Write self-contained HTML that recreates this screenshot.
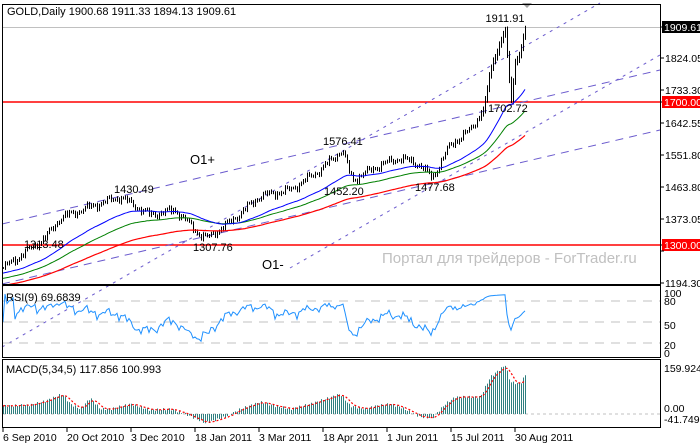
<!DOCTYPE html>
<html><head><meta charset="utf-8">
<style>
body{margin:0;background:#fff;}
svg{display:block;font-family:"Liberation Sans",sans-serif;}
</style></head><body>
<svg id="c" width="700" height="446" xmlns="http://www.w3.org/2000/svg">
<rect width="700" height="446" fill="#fff"/>
<g id="g"></g>
<rect x="2.5" y="4.5" width="658" height="280" fill="none" stroke="#000"/>
<rect x="2.5" y="285.5" width="658" height="72" fill="none" stroke="#000"/>
<rect x="2.5" y="359.5" width="658" height="68" fill="none" stroke="#000"/>
<text x="7" y="15" font-size="11">GOLD,Daily  1900.68 1911.33 1894.13 1909.61</text>
<text x="6" y="301" font-size="11">RSI(9) 69.6839</text>
<text x="6" y="373" font-size="11">MACD(5,34,5) 117.856 100.993</text>
<text x="190" y="164" font-size="13">O1+</text>
<text x="262" y="269" font-size="13">O1-</text>
<text x="382" y="263" font-size="15" fill="#c0c0c0">Портал для трейдеров - ForTrader.ru</text>
</svg>
<script>
const g=document.getElementById('g');
let s='';
const Y=p=>27+(1909.61-p)*0.3578, P=y=>1909.61-(y-27)/0.3578;
s+='<line x1="3" y1="27.5" x2="660" y2="27.5" stroke="#c0c0c0"/>';
s+='<line x1="3" y1="102" x2="660" y2="102" stroke="#f00" stroke-width="1.5"/>';
s+='<line x1="3" y1="245" x2="660" y2="245" stroke="#f00" stroke-width="1.5"/>';
[[2,224,660,70],[2,284,660,130]].forEach(l=>s+=`<line x1="${l[0]}" y1="${l[1]}" x2="${l[2]}" y2="${l[3]}" stroke="#6a5acd" stroke-dasharray="8,6"/>`);
[[2,347,600,3],[290,268,660,55]].forEach(l=>s+=`<line x1="${l[0]}" y1="${l[1]}" x2="${l[2]}" y2="${l[3]}" stroke="#6a5acd" stroke-dasharray="3,5"/>`);
[301,322,343].forEach(y=>s+=`<line x1="3" y1="${y}" x2="660" y2="${y}" stroke="#c0c0c0" stroke-dasharray="9,7"/>`);
s+='<line x1="3" y1="414" x2="660" y2="414" stroke="#c0c0c0" stroke-dasharray="3,3"/>';
const K=[[3,268],[20,256],[45,238],[60,218],[95,205],[120,197],[150,215],[175,210],[200,235],[207,238],[230,222],[260,196],[290,190],[320,170],[342,150],[352,180],[380,165],[400,158],[420,165],[432,178],[450,145],[470,130],[484,108],[490,70],[500,42],[505,30],[508,70],[511,100],[515,62],[520,52],[525,29]];
function interp(T,x){for(let k=1;k<T.length;k++)if(x<=T[k][0]){const a=T[k-1],b=T[k];return a[1]+(b[1]-a[1])*(x-a[0])/(b[0]-a[0]);}return T[T.length-1][1];}
const N=262,C=[];
for(let i=0;i<N;i++){const x=3+2*i;let n=Math.sin(i*1.7)*5+Math.sin(i*0.63)*7+Math.sin(i*2.9)*4;if(x>480)n*=0.4;C.push(P(interp(K,x))+n);}
for(let i=0;i<N;i++){const x=3+2*i+0.5,c=C[i],o=i?C[i-1]:c;const r=5+Math.abs(Math.sin(i*1.3))*6+(x>480?10:0);
const h=Math.max(o,c)+r*0.5,l=Math.min(o,c)-r*0.5;
s+=`<line x1="${x}" y1="${Y(h)}" x2="${x}" y2="${Y(l)}" stroke="#000"/>`;}
function ema(a,n,off){let e=a[0]+off;const k=2/(n+1);return a.map(v=>e=e+(v-e)*k);}
function pl(a,col,w,f,extra){return `<polyline fill="none" stroke="${col}" stroke-width="${w}" ${extra||''} points="${a.map((v,i)=>(3+2*i)+','+f(v,i).toFixed(1)).join(' ')}"/>`;}
s+=pl(ema(C,120,-50),'#f00',1.2,Y);
s+=pl(ema(C,70,-30),'#008000',1,Y);
s+=pl(ema(C,42,-15),'#00f',1,Y);
[[505,22,'1911.91'],[488,112,'1702.72'],[323,145,'1576.41'],[114,193,'1430.49'],[324,195,'1452.20'],[415,191,'1477.68'],[24,248,'1313.48'],[193,251,'1307.76']].forEach(t=>s+=`<text x="${t[0]}" y="${t[1]}" font-size="11" text-anchor="${t[0]==505?'middle':'start'}">${t[2]}</text>`);
const R=[];let ag=0,al=0;for(let i=0;i<N;i++){const d=i?C[i]-C[i-1]:0;ag=(ag*8+Math.max(d,0))/9;al=(al*8+Math.max(-d,0))/9;let v=al+ag?100*ag/(ag+al):50;v=50+(v-50)*0.8;R.push(v);}
s+=pl(R,'#1e90ff',1,v=>357-0.7*Math.min(95,Math.max(8,v)));
const MK=[[3,8],[30,9],[45,13],[62,20],[70,10],[80,5],[90,16],[100,5],[110,5],[130,10],[150,4],[170,5],[185,0],[205,-9],[225,-3],[240,5],[260,12],[275,8],[290,5],[310,10],[340,20],[350,8],[365,5],[375,8],[390,10],[400,7],[420,-3],[432,-4],[445,10],[455,17],[480,17],[490,37],[505,49],[510,32],[520,30],[525,39]];
const H=[];for(let i=0;i<N;i++){const x=3+2*i;H.push(interp(MK,x)+Math.sin(i*2.3)*1.2);}
for(let i=0;i<N;i++){const x=3+2*i+0.5;s+=`<line x1="${x}" y1="414" x2="${x}" y2="${414-H[i]}" stroke="#2f7f7f"/>`;}
const S=H.map((v,i)=>{let a=0,c=0;for(let j=Math.max(0,i-4);j<=i;j++){a+=H[j];c++;}return a/c;});
s+=pl(S,'#f00',1.2,v=>414-v,'stroke-dasharray="2,2"');
const lab=[[27,'1909.61',1],[58,'1824.05'],[90,'1733.30'],[102,'1700.00',2],[123,'1642.55'],[155,'1551.80'],[187,'1463.80'],[219,'1373.05'],[245,'1300.00',2],[251,'1282.30'],[283,'1194.30']];
lab.forEach(l=>{s+=`<line x1="660" y1="${l[0]}" x2="664" y2="${l[0]}" stroke="#000"/>`;
if(l[2]){s+=`<rect x="662" y="${l[0]-6}" width="38" height="12" fill="${l[2]==1?'#000':'#f00'}"/><text x="664" y="${l[0]+4}" font-size="10.5" fill="#fff">${l[1]}</text>`;}
else if(l[0]!=251)s+=`<text x="665" y="${l[0]+4}" font-size="10.5">${l[1]}</text>`;});
[[293,'100'],[301,'80'],[325,'50'],[345,'20'],[353,'0'],[368,'159.924'],[408,'0.00'],[419,'-41.749']].forEach(l=>s+=`<text x="664" y="${l[0]+4}" font-size="10.5">${l[1]}</text>`);
['6 Sep 2010','20 Oct 2010','3 Dec 2010','18 Jan 2011','3 Mar 2011','18 Apr 2011','1 Jun 2011','15 Jul 2011','30 Aug 2011'].forEach((t,i)=>{const x=3+64*i;s+=`<line x1="${x}" y1="428" x2="${x}" y2="432" stroke="#000"/><text x="${x}" y="441" font-size="10.5">${t}</text>`;});
s+='<polygon points="522,3 532,3 527,8" fill="#a0a0a0"/>';
g.innerHTML=s;
</script>
</body></html>
